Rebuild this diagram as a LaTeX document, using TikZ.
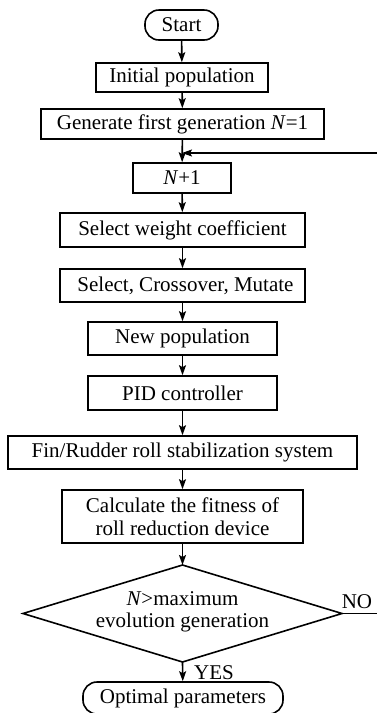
\documentclass[tikz,border=0pt]{standalone}
\usepackage{fontspec}
\setmainfont{Liberation Serif}
\usetikzlibrary{arrows.meta}
\begin{document}
\begin{tikzpicture}[x=1pt,y=-1pt,
  line width=1.6pt,
  every node/.style={font=\fontsize{21}{22.5}\selectfont, inner sep=0pt, align=center},
  box/.style={draw, rectangle},
  term/.style={draw, rectangle, rounded corners=14pt},
  arr/.style={-{Stealth[length=10pt,width=7pt,inset=2pt]}}
]
\useasboundingbox (0,0) rectangle (376,713);
\node[term, minimum width=73pt, minimum height=30pt] (start) at (181.5,25) {Start};
\node[box, minimum width=172pt, minimum height=29pt] (init) at (182,77.5) {Initial population};
\node[box, minimum width=283pt, minimum height=30pt] (gen) at (182.5,124) {Generate first generation \textit{N}=1};
\node[box, minimum width=98pt, minimum height=30pt] (n1) at (182,178) {\textit{N}+1};
\node[box, minimum width=245pt, minimum height=34pt] (sw) at (182.5,230) {Select weight coefficient};
\node[box, minimum width=245pt, minimum height=33pt] (sc) at (182.5,285.5) {\hspace*{6pt}Select, Crossover, Mutate};
\node[box, minimum width=189pt, minimum height=33pt] (np) at (182.5,338.5) {New population};
\node[box, minimum width=189pt, minimum height=34pt] (pid) at (182.5,393) {PID controller};
\node[box, minimum width=349pt, minimum height=33pt] (fin) at (182.5,452.5) {Fin/Rudder roll stabilization system};
\node[box, minimum width=241pt, minimum height=53pt] (calc) at (182.5,516.5) {Calculate the fitness of\\roll reduction device};
\coordinate (dT) at (182.5,565);
\coordinate (dB) at (182.5,662);
\coordinate (dL) at (23,613.5);
\coordinate (dR) at (342,613.5);
\draw (dT) -- (dR) -- (dB) -- (dL) -- cycle;
\node (dtext) at (182.5,612) {\textit{N}>maximum\\evolution generation};
\node[term, minimum width=200pt, minimum height=32pt] (opt) at (183,698) {Optimal parameters};
\node (no) at (357,602) {NO};
\node (yes) at (214,673) {YES};
\coordinate (join) at (182,153);
\coordinate (loopB) at (382,613.5);
\coordinate (loopT) at (382,153);
\draw[arr] (start) -- (init);
\draw[arr] (init) -- (gen);
\draw[arr] (gen) -- (n1);
\draw[arr] (n1) -- (sw);
\draw[arr] (sw) -- (sc);
\draw[arr] (sc) -- (np);
\draw[arr] (np) -- (pid);
\draw[arr] (pid) -- (fin);
\draw[arr] (fin) -- (calc);
\draw[arr] (calc) -- (dT);
\draw[arr] (dB) -- (opt);
\draw[arr] (dR) -- (loopB) -- (loopT) -- (join);
\end{tikzpicture}
\end{document}
